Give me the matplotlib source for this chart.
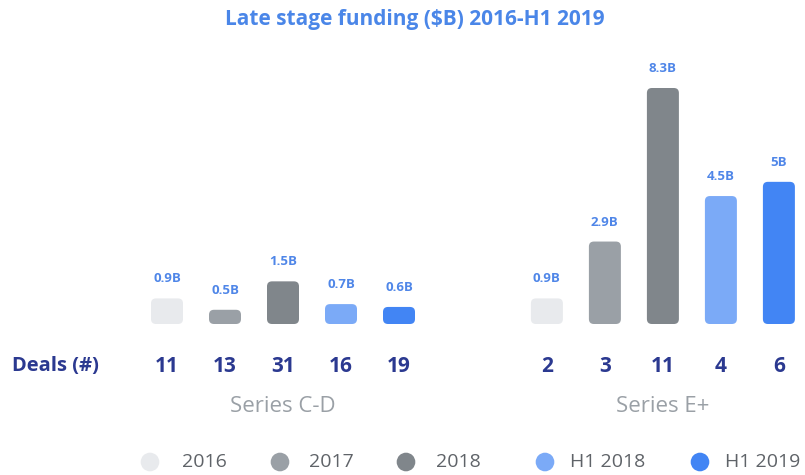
import matplotlib.pyplot as plt
from matplotlib.patches import FancyBboxPatch

# Late stage funding data
periods = ['2016', '2017', '2018', 'H1 2018', 'H1 2019']
colors = ['#e8eaed', '#9aa0a6', '#80868b', '#7baaf7', '#4285f4']
series = ['Series C-D', 'Series E+']
funding = [[0.9, 0.5, 1.5, 0.7, 0.6],
           [0.9, 2.9, 8.3, 4.5, 5.0]]
value_labels = [['0.9B', '0.5B', '1.5B', '0.7B', '0.6B'],
                ['0.9B', '2.9B', '8.3B', '4.5B', '5B']]
deals = [[11, 13, 31, 16, 19],
         [2, 3, 11, 4, 6]]

W, H = 805, 475
fig = plt.figure(figsize=(W / 100, H / 100), dpi=100)
plt.rcParams['font.family'] = ['Open Sans', 'DejaVu Sans']

navy = '#2b3990'
label_blue = '#4f86e8'

# bar axes: baseline at y=324px, 8.3B reaching ~y=88px
base_px, top_px = 324, 50
ymax = 8.3 * (base_px - top_px) / (324 - 88)
ax = fig.add_axes([0, (H - base_px) / H, 1, (base_px - top_px) / H])
px_per_x = 58.0
x0 = 167
ax.set_xlim(-x0 / px_per_x, (W - x0) / px_per_x)
ax.set_ylim(0, ymax)
ax.axis('off')

px_per_y = (base_px - top_px) / ymax
aspect = px_per_x / px_per_y
group_offset = [0, 6.55]
bw = 32 / px_per_x

for g in range(2):
    for i in range(5):
        xc = group_offset[g] + i
        v = funding[g][i]
        p = FancyBboxPatch((xc - bw / 2, 0), bw, v,
                           boxstyle='round,pad=0,rounding_size=%f' % (5 / px_per_x),
                           mutation_aspect=aspect,
                           fc=colors[i], ec='none')
        ax.add_patch(p)
        ax.text(xc, v + 13 / px_per_y, value_labels[g][i], ha='center', va='bottom',
                color=label_blue, fontsize=9.5, fontweight='bold')
        # deals count under each bar
        fig.text((x0 + xc * px_per_x) / W, 1 - 366 / H, str(deals[g][i]),
                 ha='center', va='center', color=navy, fontsize=15, fontweight='bold')
    gc = x0 + (group_offset[g] + 2) * px_per_x
    fig.text(gc / W, 1 - 407 / H, series[g], ha='center', va='center',
             color='#9aa0a6', fontsize=16)

fig.text(12 / W, 1 - 366 / H, 'Deals (#)', ha='left', va='center',
         color=navy, fontsize=14.5, fontweight='bold')

fig.text(415 / W, 1 - 20 / H, 'Late stage funding ($B) 2016-H1 2019', ha='center',
         va='center', color='#4a86e8', fontsize=15, fontweight='bold')

# legend
lx = [150, 280, 406, 545, 700]
tx = [182, 309, 436, 570, 725]
for i in range(5):
    fig.text(tx[i] / W, 1 - 462 / H, periods[i], ha='left', va='center',
             color='#5f6368', fontsize=14)
lax = fig.add_axes([0, 0, 1, 1], facecolor='none')
lax.set_xlim(0, W)
lax.set_ylim(H, 0)
lax.axis('off')
lax.scatter(lx, [462] * 5, s=180, c=colors, edgecolors='none')

fig.savefig('out.png', dpi=100, facecolor='white')
